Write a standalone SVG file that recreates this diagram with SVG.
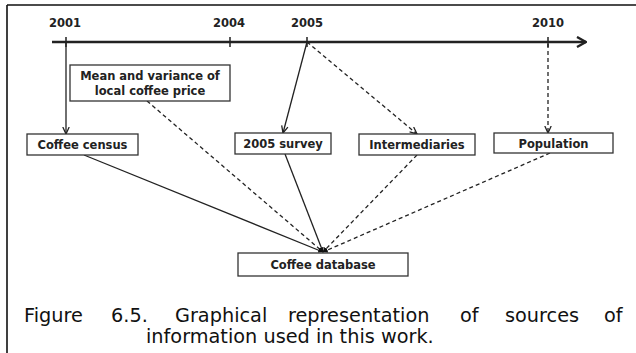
<svg xmlns="http://www.w3.org/2000/svg" width="636" height="353" viewBox="0 0 636 353">
  <defs>
    <marker id="arr" viewBox="0 0 8 8" refX="7.5" refY="4" markerWidth="8" markerHeight="8" markerUnits="userSpaceOnUse" orient="auto">
      <path d="M0.5,0.8 L7.5,4 L0.5,7.2" fill="none" stroke="#222" stroke-width="1.3"/>
    </marker>
    <marker id="tip" viewBox="0 0 8 8" refX="7.5" refY="4" markerWidth="5" markerHeight="5" markerUnits="userSpaceOnUse" orient="auto">
      <path d="M0,0 L8,4 L0,8 Z" fill="#111"/>
    </marker>
    <marker id="axisHead" viewBox="0 0 12 12" refX="11" refY="6" markerWidth="12" markerHeight="12" markerUnits="userSpaceOnUse" orient="auto">
      <path d="M2,1 L11,6 L2,11" fill="none" stroke="#222" stroke-width="2.4"/>
    </marker>
  </defs>
  <style>
    .frame { stroke: #111; stroke-width: 1.6; fill: none; }
    .box { fill: #fff; stroke: #333; stroke-width: 1.3; }
    .lbl { font-family: "DejaVu Sans", Verdana, sans-serif; font-weight: bold; font-size: 11.5px; fill: #222; text-anchor: middle; }
    .solid { stroke: #222; stroke-width: 1.3; fill: none; }
    .dash { stroke: #222; stroke-width: 1.3; fill: none; stroke-dasharray: 4 3; }
    .cap { font-family: "DejaVu Sans", Verdana, sans-serif; font-size: 19.3px; fill: #111; }
  </style>

  <rect width="636" height="353" fill="#fff"/>

  <!-- page frame: top rule and left rule -->
  <path class="frame" d="M7,5 H636 M7,5 V353"/>

  <!-- time axis -->
  <g id="timeline">
    <line x1="52" y1="42" x2="586" y2="42" stroke="#222" stroke-width="2.6" marker-end="url(#axisHead)"/>
    <path d="M66,37 V47 M230,37 V47 M307,37 V47 M548,37 V47" stroke="#222" stroke-width="1.5"/>
    <text class="lbl" x="65" y="27">2001</text>
    <text class="lbl" x="229" y="27">2004</text>
    <text class="lbl" x="307" y="27">2005</text>
    <text class="lbl" x="548" y="27">2010</text>
  </g>

  <!-- connectors -->
  <g id="connectors">
    <line class="solid" x1="66" y1="42" x2="66" y2="134" marker-end="url(#arr)"/>
    <line class="solid" x1="307" y1="42" x2="283" y2="133" marker-end="url(#arr)"/>
    <line class="dash" x1="307" y1="42" x2="417" y2="134" marker-end="url(#arr)"/>
    <line class="dash" x1="548" y1="44" x2="548" y2="133" marker-end="url(#arr)"/>

    <line class="solid" x1="84" y1="155" x2="323" y2="252" marker-end="url(#tip)"/>
    <line class="dash" x1="147" y1="101" x2="323" y2="252" marker-end="url(#tip)"/>
    <line class="solid" x1="285" y1="154" x2="323" y2="252" marker-end="url(#tip)"/>
    <line class="dash" x1="417" y1="155" x2="323" y2="252" marker-end="url(#tip)"/>
    <line class="dash" x1="550" y1="153" x2="323" y2="252" marker-end="url(#tip)"/>
  </g>

  <g id="coffee-census">
    <rect class="box" x="27" y="134" width="111" height="21"/>
    <text class="lbl" x="82.5" y="149">Coffee census</text>
  </g>

  <g id="price">
    <rect class="box" x="70" y="65" width="160" height="36"/>
    <text class="lbl" x="150" y="80">Mean and variance of</text>
    <text class="lbl" x="150" y="95">local coffee price</text>
  </g>

  <g id="survey">
    <rect class="box" x="235" y="133" width="96" height="21"/>
    <text class="lbl" x="283" y="148">2005 survey</text>
  </g>

  <g id="intermediaries">
    <rect class="box" x="359" y="134" width="116" height="21"/>
    <text class="lbl" x="417" y="149">Intermediaries</text>
  </g>

  <g id="population">
    <rect class="box" x="494" y="133" width="119" height="20"/>
    <text class="lbl" x="553.5" y="148">Population</text>
  </g>

  <g id="database">
    <rect class="box" x="238" y="253" width="170" height="23"/>
    <text class="lbl" x="323" y="268.5">Coffee database</text>
  </g>

  <!-- caption, justified first line -->
  <g id="caption">
    <text class="cap" x="24" y="322">Figure</text>
    <text class="cap" x="111" y="322">6.5.</text>
    <text class="cap" x="175" y="322">Graphical</text>
    <text class="cap" x="288" y="322">representation</text>
    <text class="cap" x="460" y="322">of</text>
    <text class="cap" x="505" y="322">sources</text>
    <text class="cap" x="604" y="322">of</text>
    <text class="cap" x="146" y="343">information used in this work.</text>
  </g>
</svg>
